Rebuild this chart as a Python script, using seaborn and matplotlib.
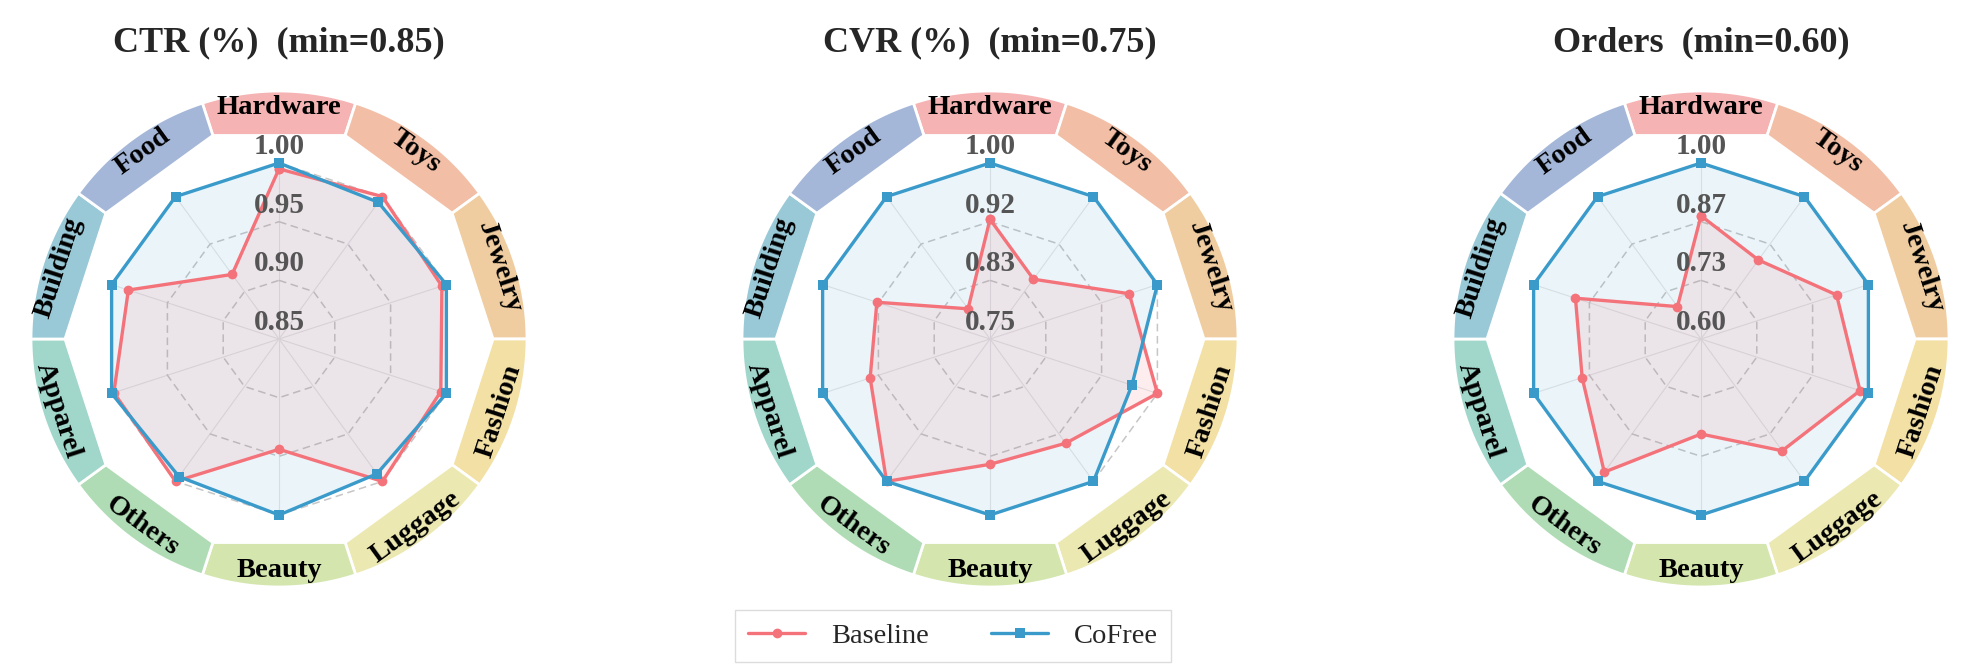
import numpy as np
import pandas as pd
import matplotlib
matplotlib.use("Agg")
import matplotlib.pyplot as plt
import seaborn as sns

# ── Data ──
CATEGORIES = ["Hardware", "Toys", "Jewelry", "Fashion", "Luggage",
              "Beauty", "Others", "Apparel", "Building", "Food"]
MODELS = ["Baseline", "CoFree"]

METRIC_NAMES = ["CTR (%)", "CVR (%)", "Orders"]
METRIC_MINS = [0.85, 0.75, 0.60]

ctr_baseline = [0.995, 1.000, 0.996, 0.995, 1.000, 0.944, 1.000, 0.998, 0.985, 0.918]
ctr_cofree = [1.000, 0.994, 1.000, 1.000, 0.992, 1.000, 0.995, 1.000, 1.000, 1.000]

cvr_baseline = [0.920, 0.855, 0.958, 1.000, 0.933, 0.928, 1.000, 0.929, 0.919, 0.803]
cvr_cofree = [1.000, 1.000, 1.000, 0.962, 1.000, 1.000, 1.000, 1.000, 1.000, 1.000]

orders_baseline = [0.880, 0.822, 0.924, 0.980, 0.914, 0.816, 0.974, 0.884, 0.900, 0.691]
orders_cofree = [1.000, 1.000, 1.000, 1.000, 1.000, 1.000, 1.000, 1.000, 1.000, 1.000]

METRIC_VALUES = [
    (ctr_baseline, ctr_cofree),
    (cvr_baseline, cvr_cofree),
    (orders_baseline, orders_cofree),
]

# ── Style ──
COLORS = {"Baseline": "#F4737A", "CoFree": "#3A9BCB"}
MARKERS = {"Baseline": "o", "CoFree": "s"}
RING_COLORS = ["#F5B3B3", "#F2BFA6", "#F0CDA0", "#F3E0A4", "#ECE8B1",
               "#D4E6AE", "#B0DCB5", "#A0D7CA", "#99C9D7", "#A5B7D8"]

R_AXES = 1.45      # axes radius, in units of the (max - min) span
R_RING_IN = 1.216
R_RING_OUT = 1.409
R_RING_TXT = 1.318
LABEL_OFFSET = 0.093

sns.set_theme(style="white")
plt.rcParams["font.family"] = ["Liberation Serif", "DejaVu Serif"]

FIG_W, FIG_H = 1980, 670
CENTERS_X = [279, 990, 1701]
CENTER_Y = 339
R_PX = 176 * R_AXES

fig = plt.figure(figsize=(FIG_W / 100, FIG_H / 100), dpi=100)

n = len(CATEGORIES)
angles = np.linspace(0, 2 * np.pi, n, endpoint=False)
angles_closed = np.append(angles, angles[0] + 2 * np.pi)
half = np.pi / n

legend_handles = None

for k, (name, vmin, (base, cofree)) in enumerate(zip(METRIC_NAMES, METRIC_MINS, METRIC_VALUES)):
    span = 1.0 - vmin
    cx = CENTERS_X[k] / FIG_W
    cy = 1 - CENTER_Y / FIG_H
    w = 2 * R_PX / FIG_W
    h = 2 * R_PX / FIG_H
    ax = fig.add_axes([cx - w / 2, cy - h / 2, w, h], projection="polar")
    ax.set_theta_zero_location("N")
    ax.set_theta_direction(-1)

    # grid: spokes and dashed decagons
    for a in angles:
        ax.plot([a, a], [vmin, 1.0], color="#E6E6E6", lw=0.8, zorder=1)
    ticks = np.linspace(vmin, 1.0, 4)
    for lv in ticks[1:]:
        ax.plot(angles_closed, np.full(n + 1, lv), color="#C6C6C6",
                lw=1.1, ls=(0, (5, 3)), zorder=1)

    # fills
    ax.fill(angles_closed, np.append(cofree, cofree[0]),
            color=COLORS["CoFree"], alpha=0.10, lw=0, zorder=2)
    ax.fill(angles_closed, np.append(base, base[0]),
            color=COLORS["Baseline"], alpha=0.12, lw=0, zorder=2)

    # lines
    rows = []
    for model, vals in zip(MODELS, (base, cofree)):
        vals_closed = np.append(vals, vals[0])
        for t, v in zip(angles_closed, vals_closed):
            rows.append({"theta": t, "value": v, "model": model})
    df = pd.DataFrame(rows)
    sns.lineplot(data=df, x="theta", y="value", hue="model", style="model",
                 hue_order=MODELS, style_order=MODELS, palette=COLORS,
                 markers=MARKERS, dashes=False, sort=False, estimator=None,
                 errorbar=None, lw=2.4, markersize=7, markeredgewidth=0,
                 ax=ax, zorder=3)
    if legend_handles is None:
        legend_handles, legend_labels = ax.get_legend_handles_labels()
    if ax.get_legend() is not None:
        ax.get_legend().remove()

    # tick labels along the top spoke
    for lv in ticks:
        ax.text(0, lv + LABEL_OFFSET * span, f"{lv:.2f}", ha="center", va="center",
                fontsize=21, fontweight="bold", color="#555555", zorder=5)

    # outer category ring
    r_in = vmin + R_RING_IN * span
    r_out = vmin + R_RING_OUT * span
    r_txt = vmin + R_RING_TXT * span
    for i, (a, cat) in enumerate(zip(angles, CATEGORIES)):
        t_arc = np.linspace(a - half, a + half, 60)
        t_poly = np.concatenate([t_arc, [a + half, a - half]])
        r_poly = np.concatenate([np.full(len(t_arc), r_out), [r_in, r_in]])
        ax.fill(t_poly, r_poly, facecolor=RING_COLORS[i], edgecolor="white",
                lw=2, zorder=2)
        deg = np.degrees(a)
        rot = -deg
        if 90 < deg < 270:
            rot += 180
        ax.text(a, r_txt, cat, rotation=rot, rotation_mode="anchor",
                ha="center", va="center", fontsize=20.5, fontweight="bold",
                color="black", zorder=5)

    ax.set_ylim(vmin, vmin + R_AXES * span)
    ax.set_xlabel("")
    ax.set_ylabel("")
    ax.set_axis_off()

    fig.text(cx, 1 - 43 / FIG_H, f"{name}  (min={vmin:.2f})", ha="center", va="center",
             fontsize=26, fontweight="bold")

fig.legend(legend_handles, legend_labels, loc="center",
           bbox_to_anchor=(953 / FIG_W, 1 - 636 / FIG_H), ncol=2,
           frameon=True, fancybox=False, edgecolor="#D4D4D4", fontsize=20.5,
           handlelength=2.0, columnspacing=2.2, handletextpad=0.9, borderpad=0.45)

fig.savefig("out.png", dpi=100)
plt.close(fig)
